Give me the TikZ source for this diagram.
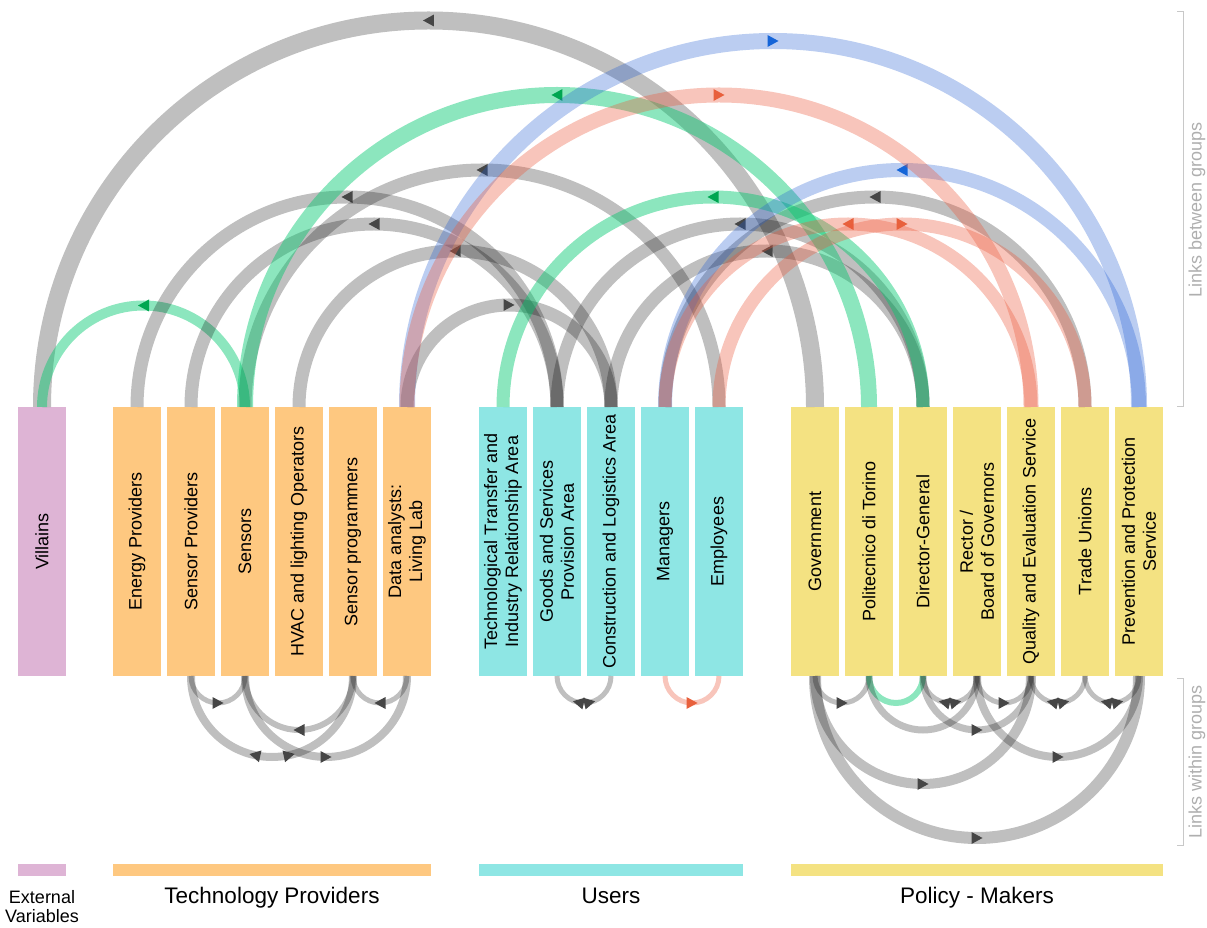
\documentclass[tikz,border=0pt]{standalone}
\usepackage{fontspec}
\setmainfont{Liberation Sans}
\usetikzlibrary{calc,decorations.markings}
\definecolor{cPink}{RGB}{222,180,213}
\definecolor{cOrange}{RGB}{254,200,128}
\definecolor{cCyan}{RGB}{142,230,228}
\definecolor{cYellow}{RGB}{244,226,130}
\definecolor{lGreen}{RGB}{0,200,110}
\definecolor{lBlue}{RGB}{30,90,210}
\definecolor{lRed}{RGB}{235,90,60}
\definecolor{aGray}{RGB}{70,70,70}
\definecolor{aGreen}{RGB}{0,166,81}
\definecolor{aBlue}{RGB}{21,101,216}
\definecolor{aRed}{RGB}{232,96,60}
\definecolor{brk}{RGB}{200,200,200}
\definecolor{brkText}{RGB}{175,175,175}
\tikzset{
 bar/.style={minimum width=48pt, minimum height=269pt, inner sep=0pt, outer sep=0pt},
 lbl/.style={rotate=90, align=center, font=\fontsize{18}{21}\selectfont, inner sep=0pt},
 grp/.style={minimum height=12pt, inner sep=0pt, outer sep=0pt},
 glbl/.style={anchor=base, inner sep=0pt, font=\fontsize{22.5}{26}\selectfont},
 uparc/.style={to path={let \p1=(\tikztostart), \p2=(\tikztotarget) in arc[start angle=180, end angle=0, radius={(\x2-\x1)/2}]}},
 dnarc/.style={to path={let \p1=(\tikztostart), \p2=(\tikztotarget) in arc[start angle=180, end angle=360, radius={(\x2-\x1)/2}]}},
 lgray/.style={draw=black, draw opacity=0.25},
 lgreen/.style={draw=lGreen, draw opacity=0.45},
 lblue/.style={draw=lBlue, draw opacity=0.3},
 lred/.style={draw=lRed, draw opacity=0.35},
 tipR/.style={postaction={decorate, decoration={markings, mark=at position 0.5 with {\fill[#1, fill opacity=1] (5.5pt,0pt)--(-5.5pt,6pt)--(-5.5pt,-6pt)--cycle;}}}},
 tipL/.style={postaction={decorate, decoration={markings, mark=at position 0.5 with {\fill[#1, fill opacity=1] (-5.5pt,0pt)--(5.5pt,6pt)--(5.5pt,-6pt)--cycle;}}}},
 tipLR/.style={postaction={decorate, decoration={markings,
   mark=at position 0.432 with {\fill[#1, fill opacity=1] (-5.5pt,0pt)--(5.5pt,6pt)--(5.5pt,-6pt)--cycle;},
   mark=at position 0.568 with {\fill[#1, fill opacity=1] (5.5pt,0pt)--(-5.5pt,6pt)--(-5.5pt,-6pt)--cycle;}}}},
 brkline/.style={draw=brk, line width=1pt},
 brklbl/.style={rotate=90, text=brkText, font=\fontsize{18}{20}\selectfont, inner sep=0pt},
}
\begin{document}
\begin{tikzpicture}[x=1pt, y=1pt]
\useasboundingbox (0,0) rectangle (1207,927);
% bars
\node[bar, fill=cPink] (vil) at (42,385.5) {};
\node[bar, fill=cOrange] (ep) at (137,385.5) {};
\node[bar, fill=cOrange] (sp) at (191,385.5) {};
\node[bar, fill=cOrange] (sen) at (245,385.5) {};
\node[bar, fill=cOrange] (hvac) at (299,385.5) {};
\node[bar, fill=cOrange] (spg) at (353,385.5) {};
\node[bar, fill=cOrange] (da) at (407,385.5) {};
\node[bar, fill=cCyan] (tt) at (503,385.5) {};
\node[bar, fill=cCyan] (gs) at (557,385.5) {};
\node[bar, fill=cCyan] (cl) at (611,385.5) {};
\node[bar, fill=cCyan] (man) at (665,385.5) {};
\node[bar, fill=cCyan] (emp) at (719,385.5) {};
\node[bar, fill=cYellow] (gov) at (815,385.5) {};
\node[bar, fill=cYellow] (poli) at (869,385.5) {};
\node[bar, fill=cYellow] (dg) at (923,385.5) {};
\node[bar, fill=cYellow] (rect) at (977,385.5) {};
\node[bar, fill=cYellow] (qual) at (1031,385.5) {};
\node[bar, fill=cYellow] (tu) at (1085,385.5) {};
\node[bar, fill=cYellow] (prev) at (1139,385.5) {};
% bar labels
\node[lbl] (vil-t) at (vil) {Villains};
\node[lbl] (ep-t) at (ep) {Energy Providers};
\node[lbl] (sp-t) at (sp) {Sensor Providers};
\node[lbl] (sen-t) at (sen) {Sensors};
\node[lbl] (hvac-t) at (hvac) {HVAC and lighting Operators};
\node[lbl] (spg-t) at (spg) {Sensor programmers};
\node[lbl] (da-t) at (da) {Data analysts:\\Living Lab};
\node[lbl] (tt-t) at (tt) {Technological Transfer and\\Industry Relationship Area};
\node[lbl] (gs-t) at (gs) {Goods and Services\\Provision Area};
\node[lbl] (cl-t) at (cl) {Construction and Logistics Area};
\node[lbl] (man-t) at (man) {Managers};
\node[lbl] (emp-t) at (emp) {Employees};
\node[lbl] (gov-t) at (gov) {Government};
\node[lbl] (poli-t) at (poli) {Politecnico di Torino};
\node[lbl] (dg-t) at (dg) {Director-General};
\node[lbl] (rect-t) at (rect) {Rector /\\Board of Governors};
\node[lbl] (qual-t) at (qual) {Quality and Evaluation Service};
\node[lbl] (tu-t) at (tu) {Trade Unions};
\node[lbl] (prev-t) at (prev) {Prevention and Protection\\Service};
% links between groups
\draw[uparc, lgray, line width=18pt, tipL=aGray] (vil.north) to (gov.north);
\draw[uparc, lgreen, line width=10pt, tipL=aGreen] (vil.north) to (sen.north);
\draw[uparc, lgray, line width=13pt, tipL=aGray] (ep.north) to (gs.north);
\draw[uparc, lgray, line width=13pt, tipL=aGray] (sp.north) to (gs.north);
\draw[uparc, lgray, line width=13pt, tipL=aGray] (sen.north) to (emp.north);
\draw[uparc, lgray, line width=13pt, tipL=aGray] (hvac.north) to (cl.north);
\draw[uparc, lgray, line width=13pt, tipR=aGray] (da.north) to (cl.north);
\draw[uparc, lgray, line width=13pt, tipL=aGray] (gs.north) to (dg.north);
\draw[uparc, lgray, line width=13pt, tipL=aGray] (cl.north) to (dg.north);
\draw[uparc, lgray, line width=13pt, tipL=aGray] (man.north) to (tu.north);
\draw[uparc, lgreen, line width=16pt, tipL=aGreen] (sen.north) to (poli.north);
\draw[uparc, lgreen, line width=13pt, tipL=aGreen] (tt.north) to (dg.north);
\draw[uparc, lblue, line width=16pt, tipR=aBlue] (da.north) to (prev.north);
\draw[uparc, lblue, line width=14pt, tipL=aBlue] (man.north) to (prev.north);
\draw[uparc, lred, line width=15pt, tipR=aRed] (da.north) to (qual.north);
\draw[uparc, lred, line width=13pt, tipL=aRed] (man.north) to (qual.north);
\draw[uparc, lred, line width=13pt, tipR=aRed] (emp.north) to (tu.north);
% links within groups
\draw[dnarc, lgray, line width=5pt, tipR=aGray] (sp.south) to (sen.south);
\draw[dnarc, lgray, line width=5pt, tipL=aGray] (spg.south) to (da.south);
\draw[dnarc, lgray, line width=6pt, tipL=aGray] (sen.south) to (spg.south);
\draw[dnarc, lgray, line width=8pt, tipLR=aGray] (sp.south) to (spg.south);
\draw[dnarc, lgray, line width=8pt, tipR=aGray] (sen.south) to (da.south);
\draw[dnarc, lgray, line width=5pt, tipLR=aGray] (gs.south) to (cl.south);
\draw[dnarc, lred, line width=5pt, tipR=aRed] (man.south) to (emp.south);
\draw[dnarc, lgray, line width=5pt, tipR=aGray] (gov.south) to (poli.south);
\draw[dnarc, lgreen, line width=6pt] (poli.south) to (dg.south);
\draw[dnarc, lgray, line width=5pt, tipLR=aGray] (dg.south) to (rect.south);
\draw[dnarc, lgray, line width=5pt, tipR=aGray] (rect.south) to (qual.south);
\draw[dnarc, lgray, line width=5pt, tipLR=aGray] (qual.south) to (tu.south);
\draw[dnarc, lgray, line width=5pt, tipLR=aGray] (tu.south) to (prev.south);
\draw[dnarc, lgray, line width=7pt] (poli.south) to (rect.south);
\draw[dnarc, lgray, line width=7pt, tipR=aGray] (dg.south) to (qual.south);
\draw[dnarc, lgray, line width=8pt, tipR=aGray] (rect.south) to (prev.south);
\draw[dnarc, lgray, line width=10pt, tipR=aGray] (gov.south) to (qual.south);
\draw[dnarc, lgray, line width=12pt, tipR=aGray] (gov.south) to (prev.south);
% group bars and labels
\node[grp, fill=cPink, minimum width=48pt] (g-ext) at (42,57) {};
\node[grp, fill=cOrange, minimum width=318pt] (g-tech) at (272,57) {};
\node[grp, fill=cCyan, minimum width=264pt] (g-users) at (611,57) {};
\node[grp, fill=cYellow, minimum width=372pt] (g-pol) at (977,57) {};
\node[anchor=base, inner sep=0pt, font=\fontsize{18}{20}\selectfont] (l-ext1) at (42,24) {External};
\node[anchor=base, inner sep=0pt, font=\fontsize{18}{20}\selectfont] (l-ext2) at (42,5) {Variables};
\node[glbl] (l-tech) at (272,24) {Technology Providers};
\node[glbl] (l-users) at (611,24) {Users};
\node[glbl] (l-pol) at (977,24) {Policy - Makers};
% brackets
\draw[brkline] (1177,915) -- (1183,915) -- (1183,520) -- (1177,520);
\draw[brkline] (1177,249) -- (1183,249) -- (1183,82) -- (1177,82);
\node[brklbl] (b-between) at (1197,717) {Links between groups};
\node[brklbl] (b-within) at (1197,165) {Links within groups};
\end{tikzpicture}
\end{document}
